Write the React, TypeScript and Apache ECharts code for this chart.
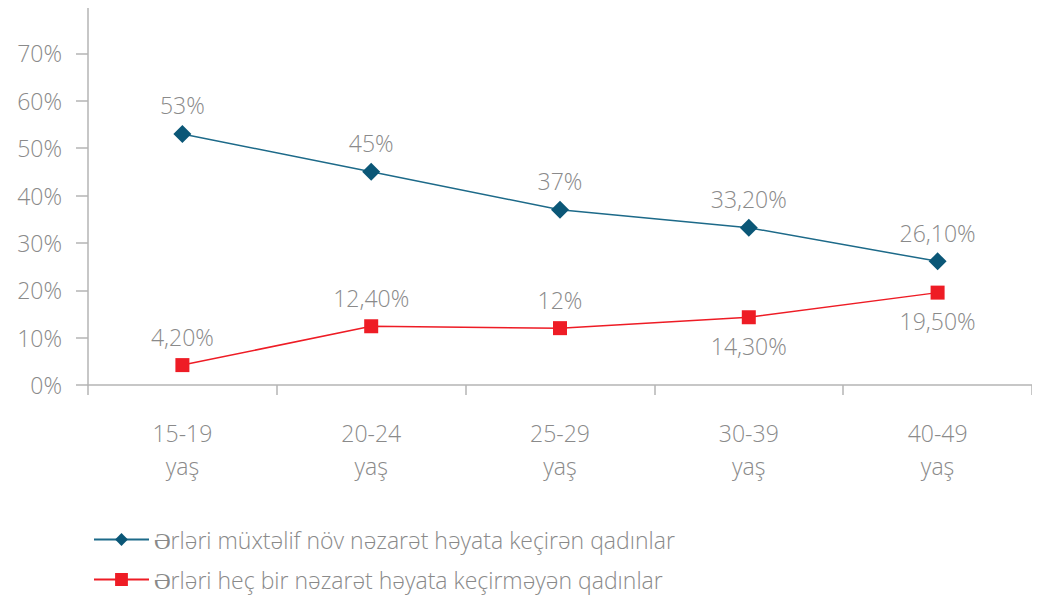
import React, { useEffect, useRef } from "react";
import * as echarts from "echarts";

const categories = ["15-19\nyaş", "20-24\nyaş", "25-29\nyaş", "30-39\nyaş", "40-49\nyaş"];
const seriesNames = [
  "Ərləri müxtəlif növ nəzarət həyata keçirən qadınlar",
  "Ərləri heç bir nəzarət həyata keçirməyən qadınlar",
];
const controlValues = [53, 45, 37, 33.2, 26.1];
const controlLabels = ["53%", "45%", "37%", "33,20%", "26,10%"];
const noControlValues = [4.2, 12.4, 12, 14.3, 19.5];
const noControlLabels = ["4,20%", "12,40%", "12%", "14,30%", "19,50%"];
const noControlLabelPos = ["top", "top", "top", "bottom", "bottom"];

const FONT = "'Open Sans'";
const FW = 300;
const FS = 23;
const TEXT = "#8a8a8a";

export default function App() {
  const ref = useRef<HTMLDivElement>(null);
  useEffect(() => {
    const chart = echarts.init(ref.current!, null, { renderer: "svg" });
    chart.setOption({
      animation: false,
      textStyle: { fontFamily: FONT, fontWeight: FW },
      grid: { left: 88, right: 8, top: 6, bottom: 218, containLabel: false },
      xAxis: {
        type: "category",
        data: categories,
        boundaryGap: true,
        axisLine: { lineStyle: { color: "#b5b5b5", width: 1.5 } },
        axisTick: { show: true, length: 10, lineStyle: { color: "#b5b5b5", width: 1.5 } },
        axisLabel: { color: TEXT, fontSize: FS, fontFamily: FONT, fontWeight: FW, margin: 31, lineHeight: 33 },
      },
      yAxis: {
        type: "value",
        min: 0,
        max: 80,
        interval: 10,
        axisLine: { show: true, lineStyle: { color: "#b5b5b5", width: 1.5 } },
        axisTick: { show: true, length: 12, lineStyle: { color: "#b5b5b5", width: 1.5 } },
        splitLine: { show: false },
        axisLabel: {
          color: TEXT,
          fontSize: FS,
          fontFamily: FONT,
          fontWeight: FW,
          margin: 26,
          formatter: (v: number) => (v >= 80 ? "" : v + "%"),
        },
      },
      legend: {
        orient: "vertical",
        left: 88,
        top: 523,
        itemWidth: 55,
        itemHeight: 16,
        itemGap: 17,
        textStyle: { color: TEXT, fontSize: FS, fontFamily: FONT, fontWeight: FW },
        data: seriesNames,
      },
      series: [
        {
          name: seriesNames[0],
          type: "line",
          data: controlValues,
          symbol: "diamond",
          symbolSize: 18,
          lineStyle: { color: "#1d6a89", width: 1.5 },
          itemStyle: { color: "#0b5777" },
          label: {
            show: true,
            position: "top",
            distance: 8,
            color: TEXT,
            fontSize: FS,
            fontFamily: FONT,
            fontWeight: FW,
            formatter: (p: any) => controlLabels[p.dataIndex],
          },
        },
        {
          name: seriesNames[1],
          type: "line",
          data: noControlValues.map((v, i) => ({
            value: v,
            label: { position: noControlLabelPos[i] },
          })),
          symbol: "rect",
          symbolSize: 14,
          lineStyle: { color: "#ee1c25", width: 1.5 },
          itemStyle: { color: "#ee1c25" },
          label: {
            show: true,
            distance: 10,
            color: TEXT,
            fontSize: FS,
            fontFamily: FONT,
            fontWeight: FW,
            formatter: (p: any) => noControlLabels[p.dataIndex],
          },
        },
      ],
    });
    return () => chart.dispose();
  }, []);
  return <div ref={ref} style={{ width: 1040, height: 603, margin: -8 }} />;
}
